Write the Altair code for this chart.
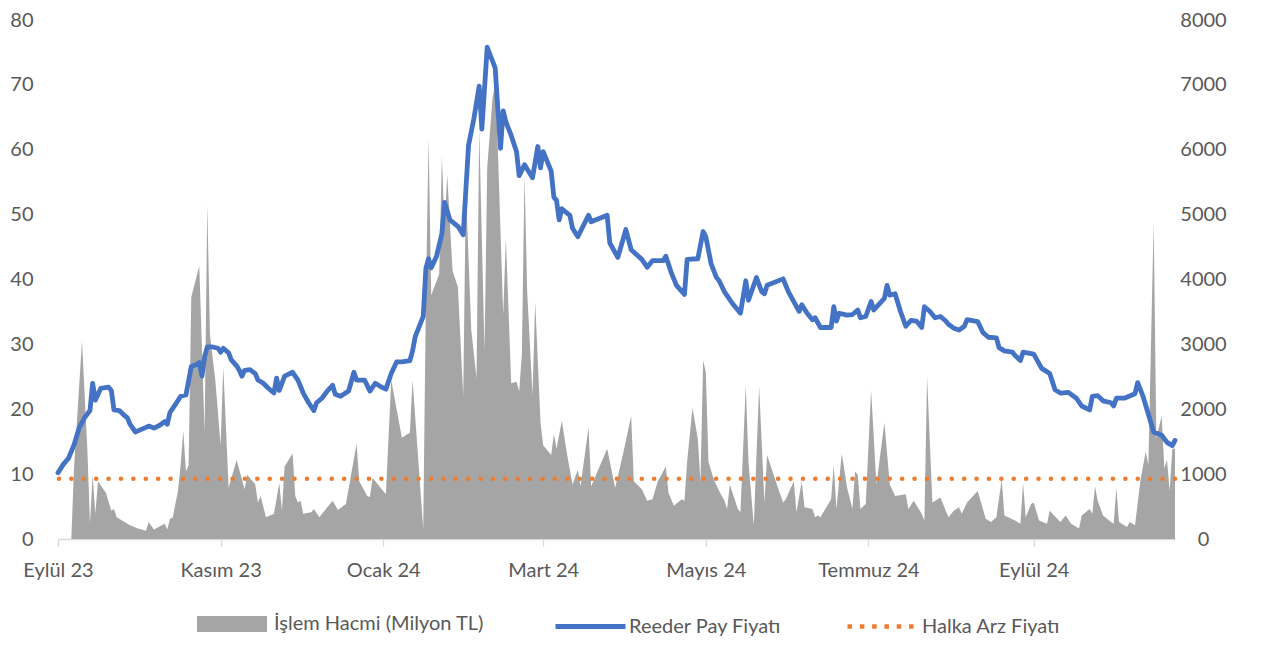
import altair as alt
import pandas as pd

# ---------------- data ----------------
start_date = "2023-09-01"           # first trading day shown on the axis
end_date = "2024-10-24"             # last trading day shown
tick_dates = ["2023-09-01", "2023-11-01", "2024-01-01", "2024-03-01",
              "2024-05-01", "2024-07-01", "2024-09-01"]
month_names = ["Ocak", "Şubat", "Mart", "Nisan", "Mayıs", "Haziran", "Temmuz",
               "Ağustos", "Eylül", "Ekim", "Kasım", "Aralık"]
series_names = ["İşlem Hacmi (Milyon TL)", "Reeder Pay Fiyatı", "Halka Arz Fiyatı"]

# share price (TL), day offsets from start_date
price_day = [0, 2, 4, 6, 8, 10, 12, 13, 14, 16, 19, 20, 21, 23, 25, 26, 27, 29, 33, 34,
             36, 38, 40, 41, 42, 44, 46, 48, 50, 52, 53, 54, 55, 56, 58, 60, 61, 62, 64, 65,
             67, 68, 69, 70, 72, 74, 75, 77, 79, 81, 82, 83, 84, 85, 88, 90, 92, 94, 96, 97,
             99, 101, 103, 104, 106, 109, 111, 112, 115, 117, 119, 121, 123, 125, 127, 129, 132, 133, 134, 137,
             138, 139, 140, 142, 144, 145, 147, 150, 152, 154, 156, 158, 159, 161, 164, 165, 166, 167, 168, 170,
             172, 173, 175, 178, 180, 181, 182, 185, 186, 187, 188, 189, 192, 193, 195, 199, 200, 206, 207, 210,
             213, 215, 219, 221, 223, 227, 228, 230, 232, 235, 236, 240, 242, 243, 245, 247, 248, 250, 253, 256,
             258, 259, 262, 264, 265, 266, 272, 274, 276, 278, 279, 281, 283, 284, 286, 290, 291, 292, 293, 296,
             298, 300, 301, 303, 305, 306, 310, 311, 312, 314, 316, 318, 320, 322, 324, 325, 327, 329, 331, 333,
             334, 336, 338, 340, 341, 345, 347, 349, 352, 353, 355, 358, 359, 361, 362, 366, 369, 372, 374, 376,
             379, 382, 384, 387, 388, 390, 392, 395, 396, 397, 400, 404, 405, 407, 411, 414, 416, 418, 419]
price = [10.2, 11.5, 12.5, 14.5, 17.2, 18.7, 19.8, 24.0, 21.4, 23.2, 23.4, 22.9, 19.9, 19.8, 19.0, 18.7, 17.7, 16.5, 17.2, 17.4,
         17.1, 17.5, 18.1, 17.7, 19.5, 20.7, 22.0, 22.2, 26.6, 26.9, 27.2, 25.1, 28.1, 29.6, 29.6, 29.4, 28.8, 29.4, 28.7, 27.6,
         26.7, 26.0, 25.1, 26.0, 26.1, 25.5, 24.5, 24.0, 23.2, 22.5, 24.8, 22.9, 24.0, 25.1, 25.7, 24.5, 22.5, 21.0, 19.8, 21.0,
         21.7, 22.8, 23.7, 22.3, 22.0, 22.8, 25.7, 24.5, 24.5, 22.8, 24.0, 23.5, 23.1, 25.5, 27.3, 27.3, 27.5, 29.0, 31.2, 34.3,
         41.7, 43.2, 41.8, 43.6, 47.1, 51.9, 49.2, 48.2, 46.9, 60.7, 64.8, 69.8, 63.2, 75.8, 72.6, 66.3, 60.2, 66.0, 64.3, 62.2,
         59.7, 56.0, 57.7, 55.7, 60.5, 57.2, 59.7, 56.7, 52.7, 52.2, 49.2, 50.9, 49.9, 47.9, 46.6, 49.9, 48.9, 49.9, 45.6, 43.4,
         47.7, 44.6, 43.1, 41.9, 42.9, 42.9, 43.6, 41.1, 39.1, 37.7, 43.1, 43.2, 47.4, 46.6, 42.4, 40.3, 39.8, 38.1, 36.3, 34.8,
         39.8, 36.8, 40.3, 38.1, 37.8, 39.1, 40.1, 38.1, 36.6, 35.1, 36.1, 34.8, 33.8, 34.1, 32.6, 32.6, 35.8, 33.6, 34.8, 34.5,
         34.6, 35.3, 34.1, 34.3, 36.6, 35.3, 37.1, 39.1, 37.6, 37.8, 35.1, 32.8, 33.7, 33.6, 32.6, 35.8, 35.1, 34.1, 34.3, 33.6,
         33.1, 32.5, 32.2, 32.8, 33.8, 33.5, 31.8, 31.1, 31.0, 29.5, 29.0, 28.8, 28.3, 27.5, 28.8, 28.5, 26.3, 25.5, 23.0, 22.5,
         22.6, 21.7, 20.5, 19.9, 22.0, 22.1, 21.3, 21.0, 20.5, 21.7, 21.7, 22.4, 24.1, 22.0, 16.5, 16.0, 14.9, 14.4, 15.2]

# trading volume (million TL), day offsets from start_date
volume_day = [5, 6, 9, 11, 12, 13, 14, 15, 18, 20, 21, 22, 27, 30, 33, 34, 36, 40, 41, 42,
              43, 45, 46, 47, 48, 49, 50, 53, 55, 56, 57, 59, 61, 62, 64, 67, 70, 71, 74, 75,
              76, 78, 81, 83, 84, 85, 88, 89, 90, 91, 92, 95, 96, 98, 103, 105, 108, 112, 113, 116,
              117, 118, 123, 125, 129, 132, 133, 137, 138, 139, 140, 143, 144, 145, 146, 148, 150, 152, 153, 155,
              157, 158, 160, 161, 163, 164, 165, 167, 168, 170, 172, 173, 174, 175, 176, 178, 179, 181, 182, 185,
              186, 187, 189, 191, 193, 195, 196, 199, 200, 206, 209, 212, 215, 216, 219, 221, 223, 225, 228, 229,
              231, 234, 235, 236, 238, 240, 241, 242, 243, 244, 246, 248, 250, 251, 252, 255, 256, 258, 259, 261,
              263, 265, 266, 269, 272, 273, 276, 277, 279, 280, 283, 284, 285, 286, 290, 291, 292, 294, 296, 298,
              299, 300, 301, 303, 305, 307, 310, 312, 314, 318, 319, 321, 324, 325, 326, 328, 331, 333, 334, 336,
              338, 339, 341, 345, 348, 350, 352, 354, 355, 359, 361, 362, 363, 365, 366, 368, 371, 372, 376, 378,
              380, 383, 384, 387, 388, 389, 390, 392, 395, 396, 397, 398, 401, 402, 404, 406, 408, 409, 411, 412,
              414, 415, 416, 417, 418, 419]
volume = [0, 1090, 3050, 1390, 237, 990, 390, 890, 710, 437, 463, 337, 211, 161, 126, 261, 146, 237, 146, 312,
          327, 740, 1140, 1670, 1040, 1140, 3730, 4210, 1645, 5165, 3150, 2450, 1445, 2650, 790, 1218, 765, 990, 840, 563,
          664, 337, 388, 865, 437, 1117, 1317, 664, 563, 588, 388, 413, 463, 337, 588, 448, 538, 1468, 890, 664,
          649, 940, 690, 2450, 1560, 1640, 2450, 150, 3700, 6172, 3757, 4085, 5896, 4814, 5618, 4135, 3883, 2199, 5400, 3229,
          2475, 6323, 2902, 5719, 6800, 7000, 6000, 3455, 4637, 2400, 2425, 2274, 2852, 5618, 3807, 2223, 3656, 1796, 1444, 1293,
          1619, 1393, 1821, 1293, 840, 1067, 815, 1720, 815, 1393, 789, 1317, 1897, 890, 765, 588, 613, 890, 1117, 714,
          513, 613, 588, 1192, 2022, 1544, 890, 2751, 2576, 1192, 916, 739, 588, 463, 840, 463, 413, 2374, 1192, 211,
          2350, 563, 1293, 916, 563, 613, 890, 413, 890, 488, 463, 337, 362, 337, 613, 1142, 463, 1317, 789, 463,
          1041, 991, 463, 538, 2298, 840, 1796, 840, 664, 690, 463, 588, 388, 287, 2500, 563, 638, 437, 337, 437,
          488, 388, 563, 740, 312, 261, 337, 916, 362, 287, 237, 865, 337, 538, 563, 287, 237, 437, 261, 362,
          237, 161, 362, 463, 388, 815, 588, 362, 261, 237, 789, 261, 186, 261, 211, 890, 1343, 1142, 4890, 1544,
          1897, 1091, 1218, 740, 1393, 1393]

ipo_price = 9.3
price_ticks = list(range(0, 81, 10))
volume_ticks = list(range(0, 8001, 1000))

# ---------------- tables ----------------
start = pd.Timestamp(start_date)
price_df = pd.DataFrame({
    "date": start + pd.to_timedelta(price_day, unit="D"),
    "price": price,
    "series": series_names[1],
})
volume_df = pd.DataFrame({
    "date": start + pd.to_timedelta(volume_day, unit="D"),
    "volume": volume,
    "series": series_names[0],
})
ipo_df = pd.DataFrame({"price": [ipo_price], "series": [series_names[2]]})


def dt(s):
    t = pd.Timestamp(s)
    return alt.DateTime(year=t.year, month=t.month, date=t.day)


FONT = "Lato"
TXT = "#595959"
GRAY = "#A5A5A5"
BLUE = "#4472C4"
ORANGE = "#ED7D31"

month_js = "[" + ",".join("'" + m + "'" for m in month_names) + "]"
x_enc = alt.X(
    "date:T",
    scale=alt.Scale(domain=[dt(start_date), dt(end_date)]),
    axis=alt.Axis(
        values=[dt(d) for d in tick_dates],
        labelExpr=month_js + "[month(datum.value)] + ' ' + timeFormat(datum.value, '%y')",
        title=None, grid=False, domainColor="#D9D9D9", domainWidth=1.3,
        tickColor="#D9D9D9", tickSize=7, tickWidth=1.3,
        labelPadding=14, labelAlign="center", labelFlush=False, labelOverlap=False,
    ),
)

# legend symbol shape for the volume swatch (unit square -1..1)
rect_path = "M-1,-0.23L1,-0.23L1,0.23L-1,0.23Z"

LEG_Y = 569
common_leg = dict(orient="none", direction="horizontal", title=None, padding=0,
                  labelFont=FONT, labelFontSize=20, labelColor=TXT, labelLimit=600,
                  symbolSize=4900, legendY=LEG_Y)

area = alt.Chart(volume_df).mark_area(interpolate="linear", opacity=1).encode(
    x=x_enc,
    y=alt.Y("volume:Q", scale=alt.Scale(domain=[0, 8000], nice=False),
            axis=alt.Axis(orient="right", values=volume_ticks, format="d", title=None,
                          grid=False, domain=False, ticks=False, labelPadding=28,
                          labelAlign="center")),
    fill=alt.Fill("series:N", scale=alt.Scale(domain=[series_names[0]], range=[GRAY]),
                  legend=alt.Legend(legendX=139, symbolType=rect_path, symbolStrokeWidth=0,
                                    labelOffset=7, **common_leg)),
)

line = alt.Chart(price_df).mark_line(strokeWidth=4.8, strokeJoin="round", strokeCap="round").encode(
    x=x_enc,
    y=alt.Y("price:Q", scale=alt.Scale(domain=[0, 80], nice=False),
            axis=alt.Axis(orient="left", values=price_ticks, title=None, grid=False,
                          domain=False, ticks=False, labelPadding=25)),
    stroke=alt.Stroke("series:N", scale=alt.Scale(domain=[series_names[1]], range=[BLUE]),
                      legend=alt.Legend(legendX=495, symbolType="stroke", symbolStrokeWidth=4.8,
                                        labelOffset=1, **common_leg)),
)

rule = alt.Chart(ipo_df).mark_rule(strokeWidth=4.5, strokeDash=[0.1, 12.3],
                                   strokeCap="round").encode(
    y=alt.Y("price:Q", scale=alt.Scale(domain=[0, 80], nice=False), axis=None),
    stroke=alt.Stroke("series:N", scale=alt.Scale(domain=[series_names[2]], range=[ORANGE]),
                      legend=alt.Legend(legendX=787, symbolType="stroke", symbolStrokeWidth=4.6,
                                        symbolDash=[4.6, 7.7], labelOffset=2, **common_leg)),
)

chart = alt.layer(area, line, rule).resolve_scale(
    y="independent", stroke="independent"
).resolve_legend(stroke="independent").properties(
    width=1117, height=519,
    autosize=alt.AutoSizeParams(type="none"),
    padding={"left": 50, "top": 12, "right": 84, "bottom": 98},
).configure_view(strokeWidth=0).configure_axis(
    labelFont=FONT, labelFontSize=20, labelColor=TXT
)

chart.save("out.html", embed_options={"renderer": "svg", "actions": False})
